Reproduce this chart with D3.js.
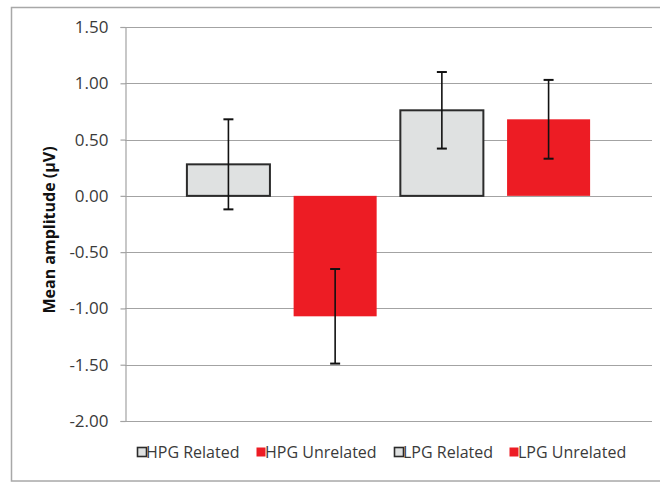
<!DOCTYPE html>
<html>
<head>
<meta charset="utf-8">
<script src="https://cdn.jsdelivr.net/npm/d3@7"></script>
<style>
  html, body { margin: 0; padding: 0; background: #fff; }
  svg { display: block; font-family: "Open Sans", "DejaVu Sans", sans-serif; }
</style>
</head>
<body>
<svg id="chart" width="660" height="485"></svg>
<script>
// Conditions shown as bars
const conditions = ["HPG Related", "HPG Unrelated", "LPG Related", "LPG Unrelated"];
// Mean amplitude per condition (µV)
const means = [0.28, -1.07, 0.76, 0.68];
// Error bar half-widths (µV)
const errors = [0.40, 0.42, 0.34, 0.35];
// Y axis ticks
const yTicks = [1.5, 1.0, 0.5, 0.0, -0.5, -1.0, -1.5, -2.0];
const yTickLabels = ["1.50", "1.00", "0.50", "0.00", "-0.50", "-1.00", "-1.50", "-2.00"];
const yTitle = "Mean amplitude (µV)";

const fills = ["#dfe1e1", "#ed1c24", "#dfe1e1", "#ed1c24"];
const strokes = ["#2b2b2b", "none", "#2b2b2b", "none"];

const svg = d3.select("#chart");

// outer chart frame
svg.append("rect")
  .attr("x", 11.5).attr("y", 7.5)
  .attr("width", 652).attr("height", 473.5)
  .attr("fill", "none").attr("stroke", "#a8a8a8").attr("stroke-width", 1.5);

const plot = { left: 125, right: 652, top: 27, bottom: 421 };

const y = d3.scaleLinear().domain([-2, 1.5]).range([plot.bottom, plot.top]);
const x = d3.scaleBand().domain(conditions)
  .range([plot.left, plot.right])
  .paddingInner(0.222).paddingOuter(0.58);

// gridlines
svg.append("g")
  .selectAll("line")
  .data(yTicks)
  .join("line")
  .attr("x1", plot.left).attr("x2", plot.right)
  .attr("y1", d => Math.round(y(d)) + 0.5).attr("y2", d => Math.round(y(d)) + 0.5)
  .attr("stroke", "#a3a3a3").attr("stroke-width", 1.2);

// y axis
const yAxis = d3.axisLeft(y)
  .tickValues(yTicks)
  .tickFormat((d, i) => yTickLabels[i])
  .tickSize(5).tickPadding(12);
const gy = svg.append("g")
  .attr("transform", `translate(${plot.left + 0.5},0)`)
  .call(yAxis);
gy.select(".domain").attr("stroke", "#a3a3a3").attr("stroke-width", 1.2);
gy.selectAll(".tick line").attr("stroke", "#a3a3a3").attr("stroke-width", 1.2);
gy.selectAll(".tick text")
  .attr("font-family", "Open Sans, sans-serif")
  .attr("font-size", 17).attr("fill", "#3a3a3a");

// y axis title
svg.append("text")
  .attr("transform", `translate(49,230) rotate(-90)`)
  .attr("text-anchor", "middle")
  .attr("dominant-baseline", "central")
  .attr("font-size", 16).attr("font-weight", "bold").attr("fill", "#111")
  .text(yTitle);

// bars
svg.append("g")
  .selectAll("rect")
  .data(conditions)
  .join("rect")
  .attr("x", d => x(d))
  .attr("width", x.bandwidth())
  .attr("y", (d, i) => y(Math.max(0, means[i])))
  .attr("height", (d, i) => Math.abs(y(means[i]) - y(0)))
  .attr("fill", (d, i) => fills[i])
  .attr("stroke", (d, i) => strokes[i])
  .attr("stroke-width", 2);

// error bars
const eg = svg.append("g").attr("stroke", "#111").attr("stroke-width", 1.6);
conditions.forEach((c, i) => {
  const cx = x(c) + x.bandwidth() / 2;
  const hi = y(means[i] + errors[i]);
  const lo = y(means[i] - errors[i]);
  eg.append("line").attr("x1", cx).attr("x2", cx).attr("y1", hi).attr("y2", lo);
  eg.append("line").attr("x1", cx - 5).attr("x2", cx + 5).attr("y1", hi).attr("y2", hi).attr("stroke-width", 2);
  eg.append("line").attr("x1", cx - 5).attr("x2", cx + 5).attr("y1", lo).attr("y2", lo).attr("stroke-width", 2);
});

// legend
const legendX = [137, 256, 394, 509];
const lg = svg.append("g");
conditions.forEach((c, i) => {
  const g = lg.append("g").attr("transform", `translate(${legendX[i]},447)`);
  g.append("rect")
    .attr("x", 0.5).attr("y", 0.5).attr("width", 9).attr("height", 9)
    .attr("fill", fills[i])
    .attr("stroke", strokes[i] === "none" ? "none" : "#2b2b2b")
    .attr("stroke-width", 1.6);
  g.append("text")
    .attr("x", 9).attr("y", 5)
    .attr("dominant-baseline", "central")
    .attr("font-size", 16).attr("fill", "#3a3a3a")
    .text(c);
});
</script>
</body>
</html>
